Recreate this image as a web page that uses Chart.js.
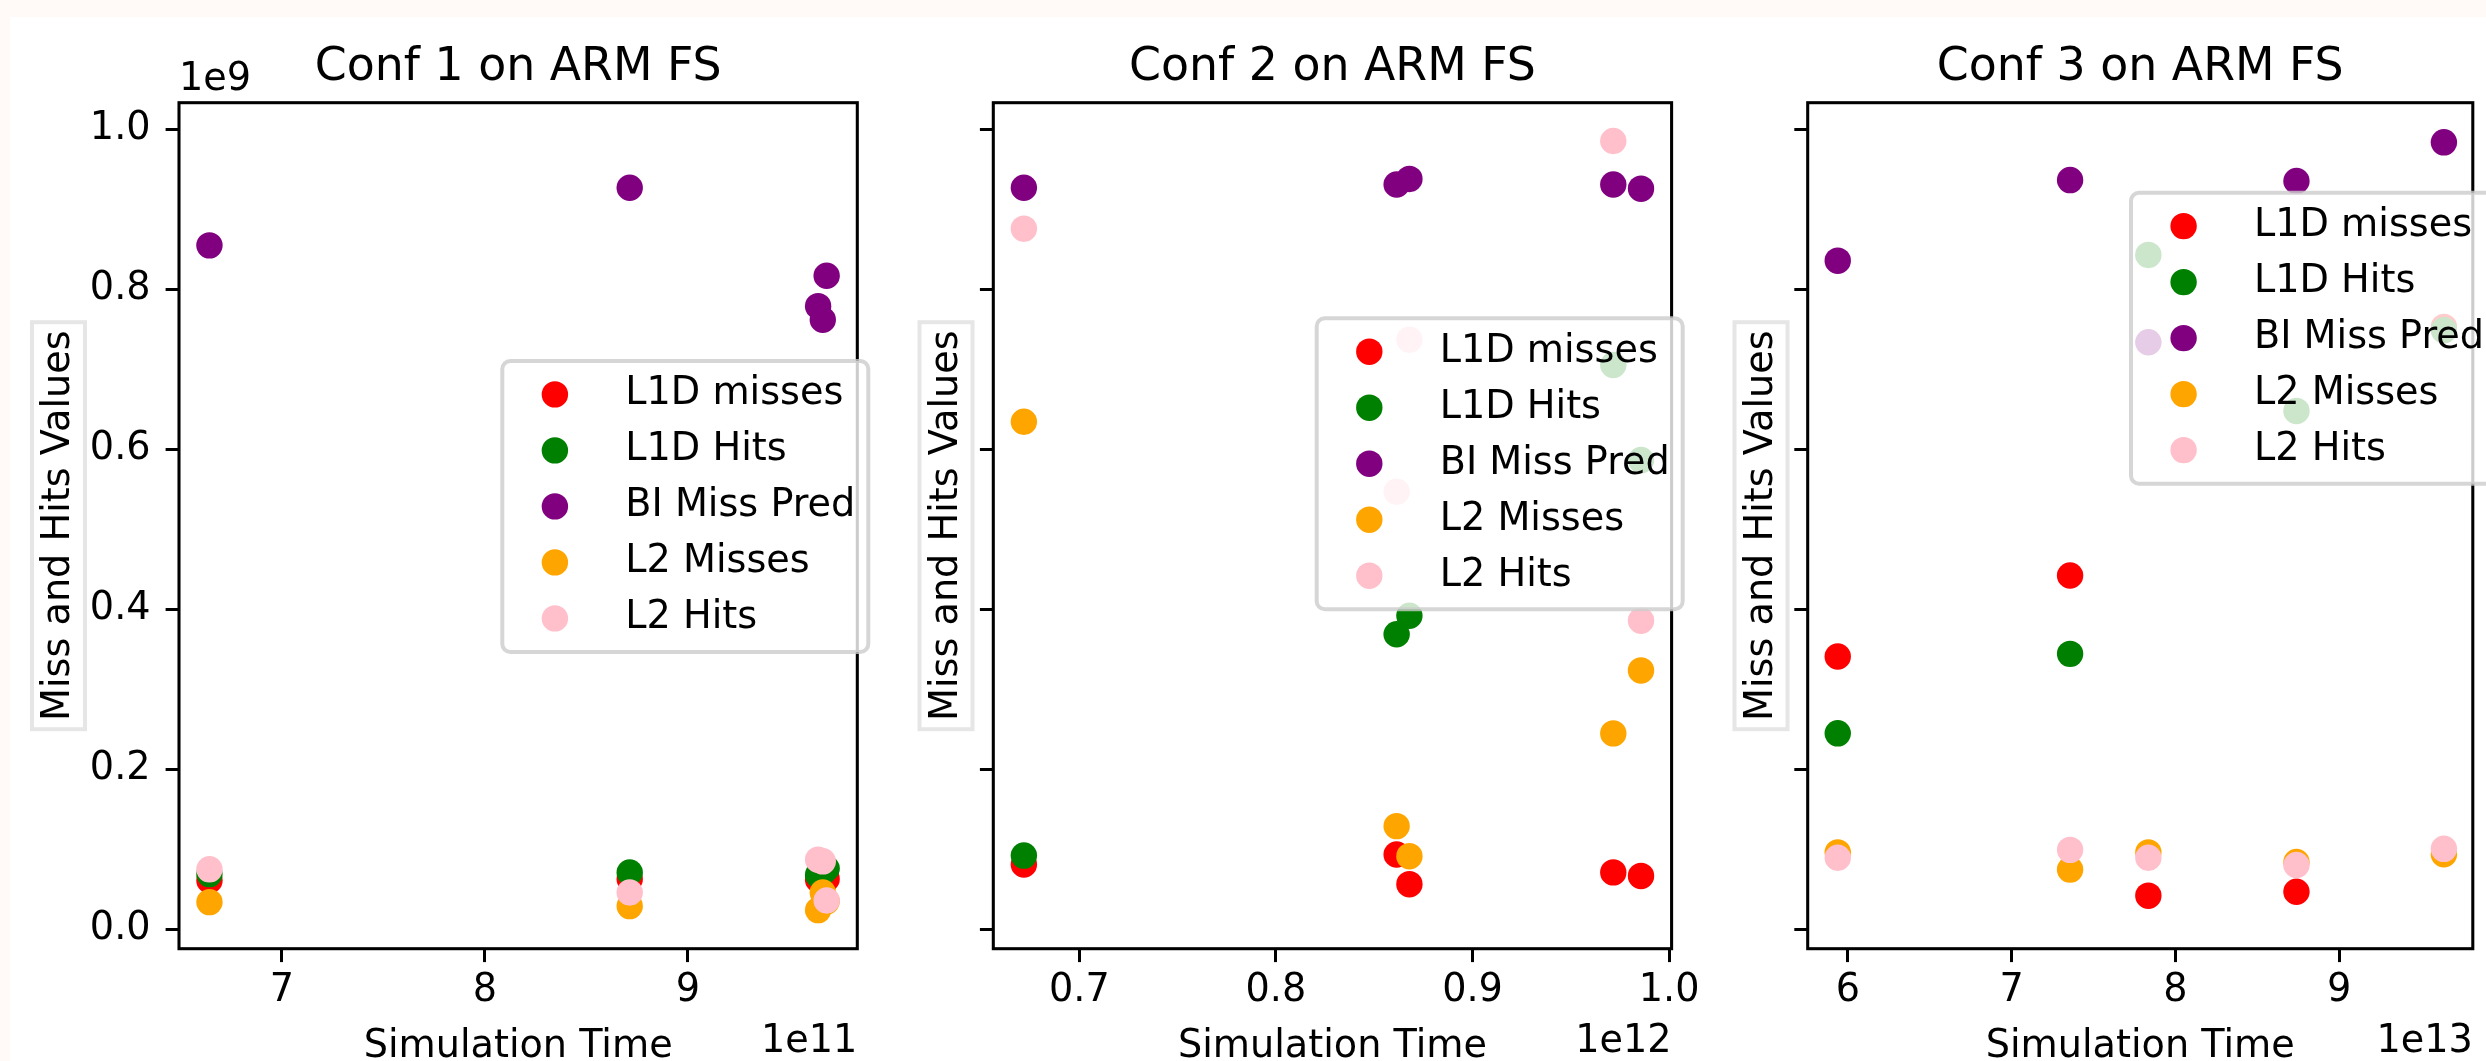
<!DOCTYPE html>
<html>
<head>
<meta charset="utf-8">
<script src="https://cdn.jsdelivr.net/npm/chart.js@4.4.1/dist/chart.umd.min.js"></script>
<style>
html, body { margin: 0; padding: 0; width: 2486px; height: 1061px; overflow: hidden; background: #fffaf8; }
#sheet { position: absolute; left: 10px; top: 17px; right: 0; bottom: 0; background: #fff; }
canvas { position: absolute; top: 0; }
</style>
</head>
<body>
<div id="sheet"></div>
<canvas id="c1" width="900" height="1061" style="left:0px"></canvas>
<canvas id="c2" width="820" height="1061" style="left:890px"></canvas>
<canvas id="c3" width="776" height="1061" style="left:1710px"></canvas>
<script>
// series shared by all three panels
const seriesNames = ['L1D misses', 'L1D Hits', 'BI Miss Pred', 'L2 Misses', 'L2 Hits'];
const seriesColors = ['red', 'green', 'purple', 'orange', 'pink'];

// Conf 1 (x in units of 1e11, y in units of 1e9)
const conf1Time = [6.643e11, 8.713e11, 9.641e11, 9.664e11, 9.683e11];
const conf1L1DMisses = [0.061e9, 0.063e9, 0.062e9, 0.060e9, 0.063e9];
const conf1L1DHits = [0.069e9, 0.071e9, 0.068e9, 0.071e9, 0.076e9];
const conf1BIMiss = [0.855e9, 0.927e9, 0.779e9, 0.762e9, 0.817e9];
const conf1L2Misses = [0.034e9, 0.029e9, 0.024e9, 0.046e9, 0.035e9];
const conf1L2Hits = [0.075e9, 0.046e9, 0.087e9, 0.085e9, 0.036e9];

// Conf 2 (x in units of 1e12)
const conf2Time = [0.6718e12, 0.8614e12, 0.8679e12, 0.9716e12, 0.9857e12];
const conf2L1DMisses = [0.081e9, 0.0935e9, 0.0564e9, 0.0711e9, 0.0667e9];
const conf2L1DHits = [0.0922e9, 0.3688e9, 0.392e9, 0.7054e9, 0.5866e9];
const conf2BIMiss = [0.927e9, 0.931e9, 0.938e9, 0.931e9, 0.9258e9];
const conf2L2Misses = [0.6345e9, 0.129e9, 0.0914e9, 0.2449e9, 0.3236e9];
const conf2L2Hits = [0.8758e9, 0.547e9, 0.737e9, 0.9854e9, 0.3858e9];

// Conf 3 (x in units of 1e13)
const conf3Time = [5.938e13, 7.357e13, 7.835e13, 8.7395e13, 9.64e13];
const conf3L1DMisses = [0.341e9, 0.4423e9, 0.042e9, 0.0469e9, 0.753e9];
const conf3L1DHits = [0.245e9, 0.3443e9, 0.843e9, 0.648e9, 0.749e9];
const conf3BIMiss = [0.8358e9, 0.9366e9, 0.7338e9, 0.9354e9, 0.9838e9];
const conf3L2Misses = [0.0961e9, 0.0746e9, 0.0961e9, 0.0841e9, 0.0939e9];
const conf3L2Hits = [0.0894e9, 0.0993e9, 0.0894e9, 0.0804e9, 0.1006e9];

// axis ticks
const yTicks = [0, 0.2e9, 0.4e9, 0.6e9, 0.8e9, 1.0e9];
const conf1XTicks = [7e11, 8e11, 9e11];
const conf2XTicks = [0.7e12, 0.8e12, 0.9e12, 1.0e12];
const conf3XTicks = [6e13, 7e13, 8e13, 9e13];

const FONT = '"DejaVu Sans"';
Chart.defaults.font.family = FONT;
Chart.defaults.font.size = 38.2;
Chart.defaults.color = '#000';

// draws spines, titles, labels, offset texts and the matplotlib-like legend
const decorPlugin = {
    id: 'decor',
    afterDraw(chart, args, o) {
        const ctx = chart.ctx;
        const a = chart.chartArea;
        const cx = (a.left + a.right) / 2;
        ctx.save();

        // spines
        ctx.strokeStyle = '#000';
        ctx.lineWidth = 3.06;
        ctx.strokeRect(a.left, a.top, a.right - a.left, a.bottom - a.top);

        // title
        ctx.fillStyle = '#000';
        ctx.textBaseline = 'alphabetic';
        ctx.textAlign = 'center';
        ctx.font = '45.8px ' + FONT;
        ctx.fillText(o.title, cx, a.top - 23);

        // x label + offset text
        ctx.font = '38.2px ' + FONT;
        ctx.fillText('Simulation Time', cx, 1057);
        ctx.textAlign = 'right';
        ctx.fillText(o.xExp, a.right, 1051.7);
        if (o.yExp) {
            ctx.textAlign = 'left';
            ctx.fillText(o.yExp, a.left, a.top - 12.7);
        }

        // y label with a light box
        ctx.save();
        ctx.translate(a.left + o.ylabelDx, (a.top + a.bottom) / 2);
        ctx.rotate(-Math.PI / 2);
        ctx.fillStyle = '#fff';
        ctx.fillRect(-203.5, -26.5, 407, 53);
        ctx.strokeStyle = '#e6e6e6';
        ctx.lineWidth = 4;
        ctx.strokeRect(-203.5, -26.5, 407, 53);
        ctx.fillStyle = '#000';
        ctx.textAlign = 'center';
        ctx.fillText('Miss and Hits Values', 0, 10.5);
        ctx.restore();

        // legend
        const lx = o.legendX, ly = o.legendY, lw = 366, lh = 291;
        ctx.beginPath();
        ctx.roundRect(lx, ly, lw, lh, 8);
        ctx.fillStyle = 'rgba(255,255,255,0.8)';
        ctx.fill();
        ctx.strokeStyle = 'rgba(204,204,204,0.8)';
        ctx.lineWidth = 4;
        ctx.stroke();
        ctx.textAlign = 'left';
        seriesNames.forEach((name, i) => {
            const my = ly + 33.4 + i * 56;
            ctx.beginPath();
            ctx.arc(lx + 52.6, my, 13.2, 0, Math.PI * 2);
            ctx.fillStyle = seriesColors[i];
            ctx.fill();
            ctx.fillStyle = '#000';
            ctx.fillText(name, lx + 123, my + 10);
        });
        ctx.restore();
    }
};

function makePanel(canvasId, canvasWidth, chartLeft, panel) {
    const chartWidth = 678.3;
    const datasets = seriesNames.map((name, i) => ({
        label: name,
        data: panel.time.map((t, k) => ({ x: t, y: panel.series[i][k] })),
        backgroundColor: seriesColors[i],
        borderWidth: 0,
        pointRadius: 13.2,
        pointHoverRadius: 13.2,
        order: seriesNames.length - i
    }));

    new Chart(document.getElementById(canvasId), {
        type: 'scatter',
        data: { datasets: datasets },
        plugins: [decorPlugin],
        options: {
            responsive: false,
            animation: false,
            events: [],
            layout: {
                padding: { left: 0, top: 102.7, bottom: 0, right: canvasWidth - chartLeft - chartWidth }
            },
            scales: {
                x: {
                    type: 'linear',
                    min: panel.xMin,
                    max: panel.xMax,
                    afterFit: s => { s.height = 1061 - 948.7; },
                    afterBuildTicks: s => { s.ticks = panel.xTicks.map(v => ({ value: v })); },
                    border: { display: false },
                    grid: { drawOnChartArea: false, drawTicks: true, tickLength: 13.4, lineWidth: 3, color: '#000' },
                    ticks: {
                        padding: 6,
                        maxRotation: 0,
                        callback: v => panel.xFormat(v)
                    }
                },
                y: {
                    type: 'linear',
                    min: -0.02425e9,
                    max: 1.0333e9,
                    afterFit: s => { s.width = chartLeft; },
                    afterBuildTicks: s => { s.ticks = yTicks.map(v => ({ value: v })); },
                    border: { display: false },
                    grid: { drawOnChartArea: false, drawTicks: true, tickLength: 13.4, lineWidth: 3, color: '#000' },
                    ticks: {
                        display: panel.showY,
                        padding: 15,
                        callback: v => (v / 1e9).toFixed(1)
                    }
                }
            },
            plugins: {
                legend: { display: false },
                tooltip: { enabled: false },
                decor: panel.decor
            }
        }
    });
}

makePanel('c1', 900, 179, {
    time: conf1Time,
    series: [conf1L1DMisses, conf1L1DHits, conf1BIMiss, conf1L2Misses, conf1L2Hits],
    xMin: 6.493e11, xMax: 9.834e11,
    xTicks: conf1XTicks,
    xFormat: v => String(Math.round(v / 1e11)),
    showY: true,
    decor: { title: 'Conf 1 on ARM FS', xExp: '1e11', yExp: '1e9', ylabelDx: -120.5, legendX: 502.3, legendY: 361 }
});

makePanel('c2', 820, 103.3, {
    time: conf2Time,
    series: [conf2L1DMisses, conf2L1DHits, conf2BIMiss, conf2L2Misses, conf2L2Hits],
    xMin: 0.65625e12, xMax: 1.00126e12,
    xTicks: conf2XTicks,
    xFormat: v => (v / 1e12).toFixed(1),
    showY: false,
    decor: { title: 'Conf 2 on ARM FS', xExp: '1e12', yExp: null, ylabelDx: -47.3, legendX: 426.7, legendY: 318.3 }
});

makePanel('c3', 776, 97.7, {
    time: conf3Time,
    series: [conf3L1DMisses, conf3L1DHits, conf3BIMiss, conf3L2Misses, conf3L2Hits],
    xMin: 5.7545e13, xMax: 9.8165e13,
    xTicks: conf3XTicks,
    xFormat: v => String(Math.round(v / 1e13)),
    showY: false,
    decor: { title: 'Conf 3 on ARM FS', xExp: '1e13', yExp: null, ylabelDx: -46.7, legendX: 421, legendY: 192.7 }
});
</script>
</body>
</html>
